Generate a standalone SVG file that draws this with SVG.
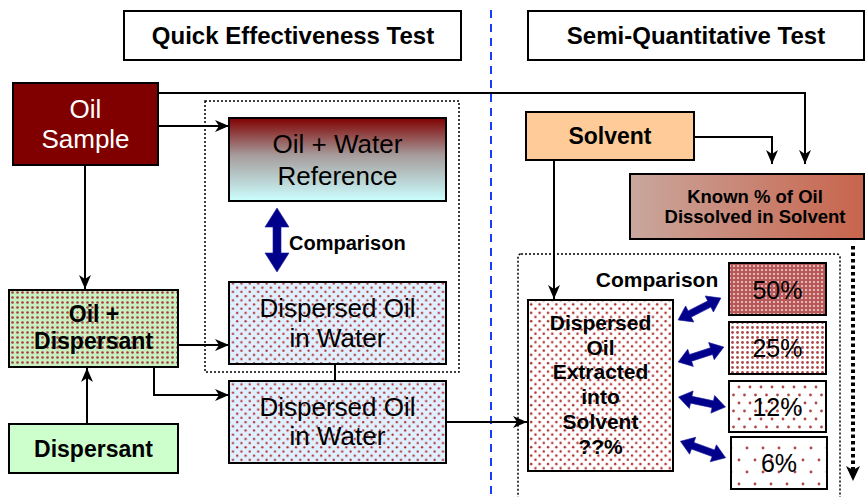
<svg xmlns="http://www.w3.org/2000/svg" width="865" height="497" viewBox="0 0 865 497">
  <style>
    .t { font-family: "Liberation Sans", Arial, sans-serif; text-anchor: middle; fill: #000; }
    .b { font-weight: bold; }
    .box { stroke: #000; stroke-width: 2; }
    .conn { fill: none; stroke: #000; stroke-width: 2; }
    .frame { fill: none; stroke: #000; stroke-width: 1.5; stroke-dasharray: 2 2; }
    .dbl { fill: #00008b; stroke: #1a1a9a; stroke-width: 0.6; }
  </style>
  <defs>
    <marker id="arrow" markerUnits="userSpaceOnUse" viewBox="0 0 14 12" refX="14" refY="6" markerWidth="14" markerHeight="12" orient="auto">
      <path d="M0,0 L14,6 L0,12 L4,6 z" fill="#000"/>
    </marker>
    <linearGradient id="gRef" x1="0" y1="0" x2="0" y2="1">
      <stop offset="0" stop-color="#800000"/>
      <stop offset="0.45" stop-color="#a69c9c"/>
      <stop offset="1" stop-color="#ccffff"/>
    </linearGradient>
    <linearGradient id="gKnown" x1="0" y1="0" x2="1" y2="0">
      <stop offset="0" stop-color="#c9a79d"/>
      <stop offset="1" stop-color="#c8644c"/>
    </linearGradient>
    <!-- dotted fills -->
    <pattern id="pBlue" patternUnits="userSpaceOnUse" width="8.4" height="8.4">
      <rect width="8.4" height="8.4" fill="#e0f0ff"/>
      <circle cx="2" cy="2" r="1.15" fill="#b03030"/>
      <circle cx="6.2" cy="6.2" r="1.15" fill="#b03030"/>
    </pattern>
    <pattern id="pWhite" patternUnits="userSpaceOnUse" width="8.4" height="8.4">
      <rect width="8.4" height="8.4" fill="#ffffff"/>
      <circle cx="2" cy="2" r="1.2" fill="#b03030"/>
      <circle cx="6.2" cy="6.2" r="1.2" fill="#b03030"/>
    </pattern>
    <pattern id="pGreen" patternUnits="userSpaceOnUse" width="5" height="5">
      <rect width="5" height="5" fill="#c8f0c0"/>
      <circle cx="2.5" cy="2.5" r="1.3" fill="#a83c3c"/>
    </pattern>
    <pattern id="p50" patternUnits="userSpaceOnUse" width="4" height="4">
      <rect width="4" height="4" fill="#b85858"/>
      <circle cx="2" cy="2" r="0.9" fill="#f4e4e4"/>
    </pattern>
    <pattern id="p25" patternUnits="userSpaceOnUse" width="5" height="5">
      <rect width="5" height="5" fill="#ffffff"/>
      <circle cx="2.5" cy="2.5" r="1.4" fill="#b04848"/>
    </pattern>
    <pattern id="p12" patternUnits="userSpaceOnUse" width="11" height="16">
      <rect width="11" height="16" fill="#ffffff"/>
      <circle cx="2" cy="3" r="1.4" fill="#b04848"/>
      <circle cx="7.5" cy="11" r="1.4" fill="#b04848"/>
    </pattern>
    <pattern id="p6" patternUnits="userSpaceOnUse" width="16" height="24">
      <rect width="16" height="24" fill="#ffffff"/>
      <circle cx="3" cy="4" r="1.4" fill="#b04848"/>
      <circle cx="11" cy="16" r="1.4" fill="#b04848"/>
    </pattern>
    <!-- two-headed comparison arrow, 48 long, centred on the origin -->
    <polygon id="dbl" points="-24,0 -11,-9 -11,-3.5 11,-3.5 11,-9 24,0 11,9 11,3.5 -11,3.5 -11,9"/>
  </defs>

  <rect width="865" height="497" fill="#ffffff"/>

  <!-- section divider -->
  <line x1="491" y1="10" x2="491" y2="497" stroke="#1a3cff" stroke-width="2" stroke-dasharray="8 6"/>

  <!-- section headings -->
  <g id="title-quick">
    <rect class="box" x="124" y="11" width="337" height="49" fill="#fff"/>
    <text class="t b" x="293" y="44" font-size="24">Quick Effectiveness Test</text>
  </g>
  <g id="title-semi">
    <rect class="box" x="528" y="11" width="336" height="49" fill="#fff"/>
    <text class="t b" x="696" y="44" font-size="24">Semi-Quantitative Test</text>
  </g>

  <!-- grouping frames -->
  <rect class="frame" x="205" y="101" width="254" height="271"/>
  <rect class="frame" x="518" y="254" width="322" height="250" rx="3"/>

  <!-- connectors -->
  <g id="connectors">
    <path class="conn" d="M158,126 H229" marker-end="url(#arrow)"/>
    <path class="conn" d="M158,93 H805 V164" marker-end="url(#arrow)"/>
    <path class="conn" d="M85,165 V289" marker-end="url(#arrow)"/>
    <path class="conn" d="M87,424 V368" marker-end="url(#arrow)"/>
    <path class="conn" d="M178,345 H229" marker-end="url(#arrow)"/>
    <path class="conn" d="M154,367 V395 H229" marker-end="url(#arrow)"/>
    <path class="conn" d="M335,364 V381"/>
    <path class="conn" d="M446,422 H527" marker-end="url(#arrow)"/>
    <path class="conn" d="M694,137 H772 V164" marker-end="url(#arrow)"/>
    <path class="conn" d="M554,160 V299" marker-end="url(#arrow)"/>
    <path fill="none" stroke="#000" stroke-width="4" stroke-dasharray="3.5 3" d="M853,246 V470"/>
    <path d="M846,466 L853,481 L860,466 L853,470 z" fill="#000"/>
    <polygon class="dbl" points="277,208 289,227 281,227 281,253 289,253 277,272 265,253 273,253 273,227 265,227"/>
    <use href="#dbl" class="dbl" transform="translate(699.5,309) rotate(-27)"/>
    <use href="#dbl" class="dbl" transform="translate(701,354.5) rotate(-18)"/>
    <use href="#dbl" class="dbl" transform="translate(702,402) rotate(12)"/>
    <use href="#dbl" class="dbl" transform="translate(703,449.5) rotate(20)"/>
  </g>

  <g id="oil-sample">
    <rect class="box" x="13" y="83" width="145" height="82" fill="#800000"/>
    <text class="t" x="85.5" y="118" font-size="26" style="fill:#fff">Oil</text>
    <text class="t" x="85.5" y="148" font-size="26" style="fill:#fff">Sample</text>
  </g>

  <g id="oil-water-reference">
    <rect class="box" x="229" y="118" width="217" height="83" fill="url(#gRef)"/>
    <text class="t" x="337.5" y="153" font-size="26">Oil + Water</text>
    <text class="t" x="337.5" y="185" font-size="26">Reference</text>
  </g>

  <text class="t b" x="289" y="250" font-size="20" style="text-anchor:start">Comparison</text>

  <g id="dispersed-top">
    <rect class="box" x="229" y="282" width="217" height="82" fill="url(#pBlue)"/>
    <text class="t" x="337.5" y="317" font-size="26">Dispersed Oil</text>
    <text class="t" x="337.5" y="347" font-size="26">in Water</text>
  </g>

  <g id="dispersed-bottom">
    <rect class="box" x="229" y="381" width="217" height="82" fill="url(#pBlue)"/>
    <text class="t" x="337.5" y="416" font-size="26">Dispersed Oil</text>
    <text class="t" x="337.5" y="445" font-size="26">in Water</text>
  </g>

  <g id="oil-dispersant">
    <rect class="box" x="9" y="290" width="169" height="77" fill="url(#pGreen)"/>
    <text class="t b" x="94" y="322" font-size="23">Oil +</text>
    <text class="t b" x="93.5" y="349" font-size="23">Dispersant</text>
  </g>

  <g id="dispersant">
    <rect class="box" x="9" y="424" width="169" height="49" fill="#ccffcc"/>
    <text class="t b" x="93.5" y="457" font-size="23">Dispersant</text>
  </g>

  <g id="solvent">
    <rect class="box" x="526" y="112" width="168" height="48" fill="#ffcc99"/>
    <text class="t b" x="610" y="144" font-size="23">Solvent</text>
  </g>

  <g id="known-percent">
    <rect class="box" x="630" y="174" width="234" height="65" fill="url(#gKnown)"/>
    <text class="t b" x="755" y="203" font-size="18.5">Known % of Oil</text>
    <text class="t b" x="755" y="223" font-size="18.5">Dissolved in Solvent</text>
  </g>

  <text class="t b" x="657" y="287" font-size="21">Comparison</text>

  <g id="extracted">
    <rect class="box" x="528" y="300" width="145" height="171" fill="url(#pWhite)"/>
    <text class="t b" x="600.5" y="330" font-size="21">Dispersed</text>
    <text class="t b" x="600.5" y="355" font-size="21">Oil</text>
    <text class="t b" x="600.5" y="379" font-size="21">Extracted</text>
    <text class="t b" x="600.5" y="404" font-size="21">into</text>
    <text class="t b" x="600.5" y="429" font-size="21">Solvent</text>
    <text class="t b" x="600.5" y="454" font-size="21">??%</text>
  </g>

  <g id="std-50">
    <rect class="box" x="729" y="263" width="97" height="52" fill="url(#p50)"/>
    <text class="t" x="777.5" y="299" font-size="25">50%</text>
  </g>
  <g id="std-25">
    <rect class="box" x="729" y="322" width="97" height="52" fill="url(#p25)"/>
    <text class="t" x="777.5" y="357" font-size="25">25%</text>
  </g>
  <g id="std-12">
    <rect class="box" x="729" y="381" width="97" height="51" fill="url(#p12)"/>
    <text class="t" x="777.5" y="416" font-size="25">12%</text>
  </g>
  <g id="std-6">
    <rect class="box" x="731" y="437" width="96" height="52" fill="url(#p6)"/>
    <text class="t" x="779" y="472" font-size="25">6%</text>
  </g>
</svg>
